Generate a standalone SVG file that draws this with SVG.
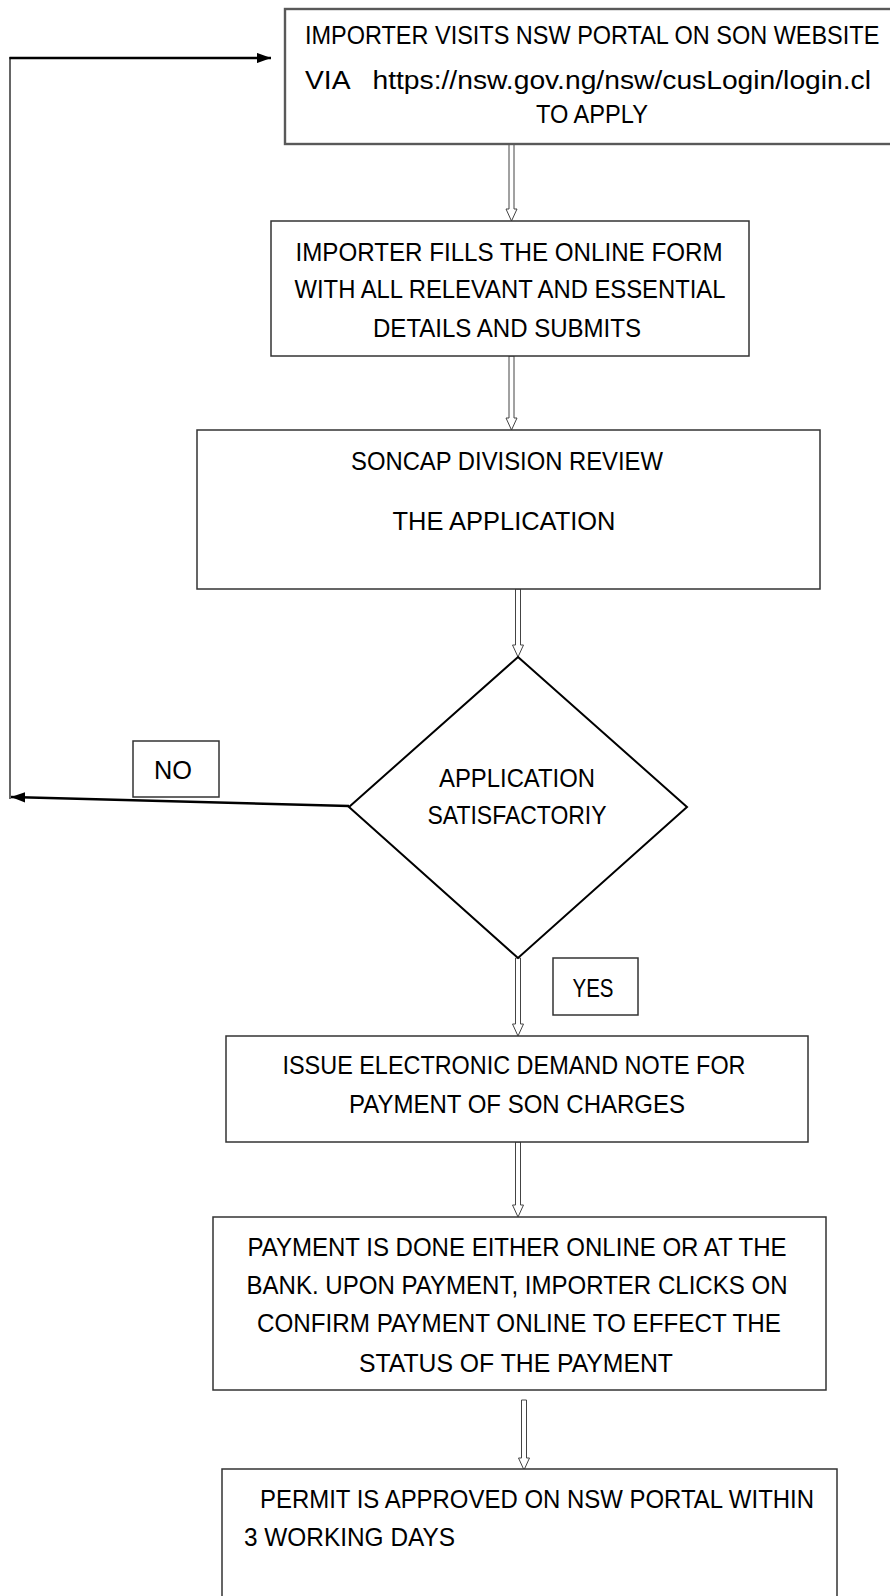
<svg xmlns="http://www.w3.org/2000/svg" width="890" height="1596" viewBox="0 0 890 1596">
<style>
.box{fill:#fff;stroke:#333;stroke-width:1.5}
.box1{fill:#fff;stroke:#595959;stroke-width:2.4}
.t{font-family:"Liberation Sans",Arial,sans-serif;font-size:26px;fill:#000}
.m{text-anchor:middle}
.hollow{fill:#fff;stroke:#444;stroke-width:1}
.line{fill:none;stroke:#000;stroke-width:2.6}
.thin{fill:none;stroke:#333;stroke-width:1.5}
</style>
<defs>
<marker id="ah" markerWidth="5.5" markerHeight="4" refX="5.5" refY="2" orient="auto" markerUnits="strokeWidth">
<path d="M0,0 L5.5,2 L0,4 Z" fill="#000"/>
</marker>
</defs>
<g id="connectors">
<path class="hollow" d="M509,144 L509,209 L506,209 L511.5,221 L517,209 L514,209 L514,144 Z"/>
<path class="hollow" d="M509,356 L509,418 L506,418 L511.5,430 L517,418 L514,418 L514,356 Z"/>
<path class="hollow" d="M515.5,589 L515.5,645 L512.5,645 L518,657 L523.5,645 L520.5,645 L520.5,589 Z"/>
<path class="hollow" d="M515.5,958 L515.5,1024 L512.5,1024 L518,1036 L523.5,1024 L520.5,1024 L520.5,958 Z"/>
<path class="hollow" d="M515.5,1142 L515.5,1205 L512.5,1205 L518,1217 L523.5,1205 L520.5,1205 L520.5,1142 Z"/>
<path class="hollow" d="M521.5,1400 L521.5,1458 L518.5,1458 L524,1470 L529.5,1458 L526.5,1458 L526.5,1400 Z"/>
<line class="line" x1="349" y1="806" x2="11" y2="797" marker-end="url(#ah)"/>
<line class="thin" x1="10" y1="799" x2="10" y2="57"/>
<line class="line" x1="9.5" y1="58" x2="271" y2="58" marker-end="url(#ah)"/>
</g>
<g id="n1">
<rect class="box1" x="285" y="9" width="620" height="135"/>
<text class="t" transform="translate(305,44) scale(0.903,1)" x="0" y="0">IMPORTER VISITS NSW PORTAL ON SON WEBSITE</text>
<text class="t" x="305" y="89" textLength="566" lengthAdjust="spacingAndGlyphs" xml:space="preserve">VIA   https://nsw.gov.ng/nsw/cusLogin/login.cl</text>
<text class="t m" x="592" y="123" textLength="112" lengthAdjust="spacingAndGlyphs">TO APPLY</text>
</g>
<g id="n2">
<rect class="box" x="271" y="221" width="478" height="135"/>
<text class="t m" x="509" y="261" textLength="427" lengthAdjust="spacingAndGlyphs">IMPORTER FILLS THE ONLINE FORM</text>
<text class="t m" x="510" y="298" textLength="431" lengthAdjust="spacingAndGlyphs">WITH ALL RELEVANT AND ESSENTIAL</text>
<text class="t m" x="507" y="337" textLength="268" lengthAdjust="spacingAndGlyphs">DETAILS AND SUBMITS</text>
</g>
<g id="n3">
<rect class="box" x="197" y="430" width="623" height="159"/>
<text class="t m" x="507" y="470" textLength="312" lengthAdjust="spacingAndGlyphs">SONCAP DIVISION REVIEW</text>
<text class="t m" x="504" y="530" textLength="223" lengthAdjust="spacingAndGlyphs">THE APPLICATION</text>
</g>
<g id="n4">
<polygon points="518,657 687,807 518,958 349,807" fill="#fff" stroke="#000" stroke-width="2"/>
<text class="t m" x="517" y="787" textLength="156" lengthAdjust="spacingAndGlyphs">APPLICATION</text>
<text class="t m" x="517" y="824" textLength="179" lengthAdjust="spacingAndGlyphs">SATISFACTORIY</text>
</g>
<g id="no">
<rect class="box" x="133" y="741" width="86" height="56"/>
<text class="t m" x="173" y="779" textLength="38" lengthAdjust="spacingAndGlyphs">NO</text>
</g>
<g id="yes">
<rect class="box" x="553" y="958" width="85" height="57"/>
<text class="t m" x="593" y="997" textLength="41" lengthAdjust="spacingAndGlyphs">YES</text>
</g>
<g id="n5">
<rect class="box" x="226" y="1036" width="582" height="106"/>
<text class="t m" x="514" y="1074" textLength="463" lengthAdjust="spacingAndGlyphs">ISSUE ELECTRONIC DEMAND NOTE FOR</text>
<text class="t m" x="517" y="1113" textLength="336" lengthAdjust="spacingAndGlyphs">PAYMENT OF SON CHARGES</text>
</g>
<g id="n6">
<rect class="box" x="213" y="1217" width="613" height="173"/>
<text class="t m" x="517" y="1256" textLength="539" lengthAdjust="spacingAndGlyphs">PAYMENT IS DONE EITHER ONLINE OR AT THE</text>
<text class="t m" x="517" y="1294" textLength="541" lengthAdjust="spacingAndGlyphs">BANK. UPON PAYMENT, IMPORTER CLICKS ON</text>
<text class="t m" x="519" y="1332" textLength="524" lengthAdjust="spacingAndGlyphs">CONFIRM PAYMENT ONLINE TO EFFECT THE</text>
<text class="t m" x="516" y="1372" textLength="314" lengthAdjust="spacingAndGlyphs">STATUS OF THE PAYMENT</text>
</g>
<g id="n7">
<rect class="box" x="222" y="1469" width="615" height="140"/>
<text class="t" x="260" y="1508" textLength="554" lengthAdjust="spacingAndGlyphs">PERMIT IS APPROVED ON NSW PORTAL WITHIN</text>
<text class="t" x="244" y="1546" textLength="211" lengthAdjust="spacingAndGlyphs">3 WORKING DAYS</text>
</g>
</svg>
